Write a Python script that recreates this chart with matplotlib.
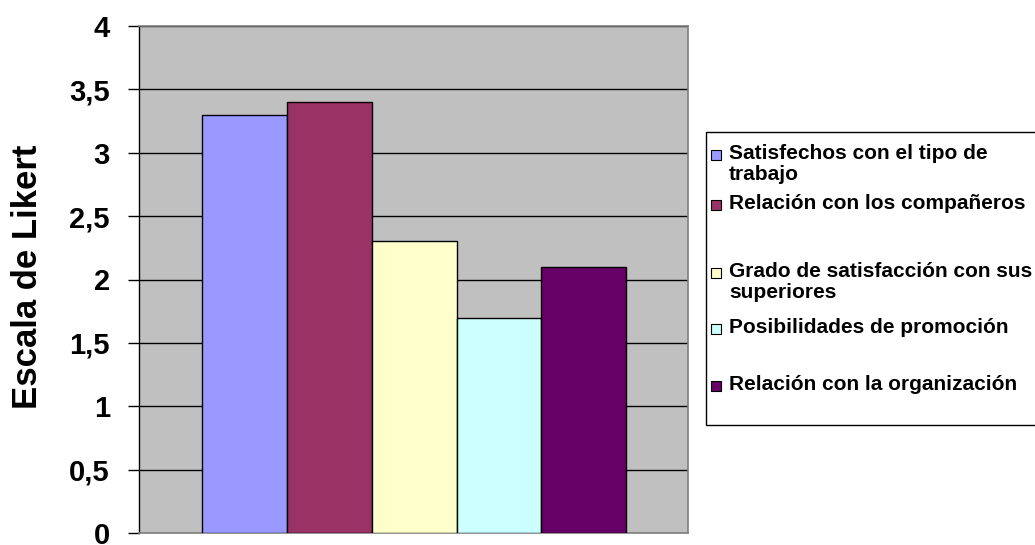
import matplotlib.pyplot as plt
from matplotlib.patches import Rectangle

categorias = ["Satisfechos con el tipo de\ntrabajo",
              "Relación con los compañeros",
              "Grado de satisfacción con sus\nsuperiores",
              "Posibilidades de promoción",
              "Relación con la organización"]
valores = [3.3, 3.4, 2.3, 1.7, 2.1]
colores = ["#9999FF", "#993366", "#FFFFCC", "#CCFFFF", "#660066"]
yticks = [0, 0.5, 1, 1.5, 2, 2.5, 3, 3.5, 4]
ytick_labels = ["0", "0,5", "1", "1,5", "2", "2,5", "3", "3,5", "4"]

plt.rcParams['font.family'] = ['Liberation Sans', 'DejaVu Sans']
plt.rcParams['font.weight'] = 'bold'

W, H = 1035, 545
fig = plt.figure(figsize=(W / 100, H / 100), dpi=100)
ax = fig.add_axes([139 / W, 1 - 533 / H, 549 / W, 507 / H])
ax.set_facecolor("#C0C0C0")

# barras una junto a otra
for i, (v, c) in enumerate(zip(valores, colores)):
    ax.bar(i, v, width=1.0, color=c, edgecolor="black", linewidth=1.0, zorder=3)

ax.set_xlim(-1.245, 5.23)
ax.set_ylim(0, 4)
ax.set_yticks(yticks)
ax.set_yticklabels(ytick_labels, fontsize=21, fontweight='bold')
ax.set_xticks([])
ax.tick_params(axis='y', direction='out', length=8, width=1, pad=13, color='black')
ax.yaxis.grid(True, color='black', linewidth=1.0, zorder=1)
ax.set_axisbelow(True)

for s in ['top', 'right', 'bottom']:
    ax.spines[s].set_color('#808080')
    ax.spines[s].set_linewidth(1.2)
ax.spines['left'].set_color('black')
ax.spines['left'].set_linewidth(1.0)

fig.text(28 / W, 1 - 277 / H, "Escala de Likert", rotation=90, fontsize=25,
         fontweight='bold', ha='center', va='center')

# leyenda dibujada a mano (espaciado tipo Excel)
fig.patches.append(Rectangle((706 / W, 1 - 425 / H), 340 / W, 293 / H,
                             transform=fig.transFigure, facecolor='white',
                             edgecolor='black', linewidth=1.0))
fila_y = [155, 205, 273, 329, 386]
for lab, c, yc in zip(categorias, colores, fila_y):
    fig.patches.append(Rectangle((711 / W, 1 - (yc + 5) / H), 10 / W, 10 / H,
                                 transform=fig.transFigure, facecolor=c,
                                 edgecolor='black', linewidth=0.8))
    fig.text(729 / W, 1 - (yc - 11) / H, lab, fontsize=15, fontweight='bold',
             ha='left', va='top', linespacing=1.15)

fig.savefig("out.png", dpi=100)
